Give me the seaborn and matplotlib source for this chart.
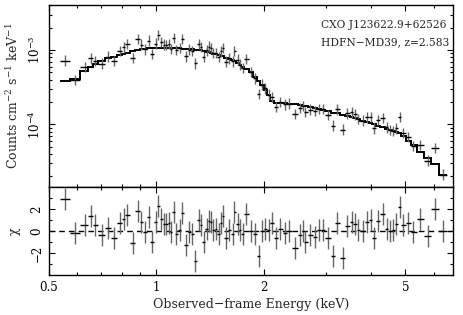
import numpy as np
import matplotlib
matplotlib.use("Agg")
import matplotlib.pyplot as plt
import seaborn as sns
from matplotlib.ticker import FixedLocator, NullFormatter, LogLocator

# bin centres (keV)
energy = [0.554, 0.593, 0.630, 0.655, 0.672, 0.702, 0.732, 0.761, 0.790, 0.810,
          0.828, 0.860, 0.888, 0.908, 0.932, 0.952, 0.972, 0.995, 1.010, 1.033,
          1.050, 1.067, 1.084, 1.101, 1.120, 1.137, 1.162, 1.182, 1.213, 1.239,
          1.261, 1.288, 1.316, 1.336, 1.359, 1.385, 1.403, 1.425, 1.447, 1.472,
          1.497, 1.520, 1.536, 1.570, 1.603, 1.638, 1.656, 1.692, 1.718, 1.747,
          1.786, 1.844, 1.896, 1.936, 1.980, 2.022, 2.065, 2.111, 2.170, 2.227,
          2.300, 2.364, 2.453, 2.533, 2.588, 2.616, 2.702, 2.790, 2.869, 2.932,
          3.027, 3.140, 3.221, 3.336, 3.436, 3.534, 3.610, 3.687, 3.793, 3.892,
          3.994, 4.088, 4.195, 4.315, 4.429, 4.523, 4.621, 4.701, 4.824, 4.927,
          5.089, 5.256, 5.512, 5.787, 6.043, 6.376]

# observed flux (counts cm^-2 s^-1 keV^-1)
flux = [7.2e-4, 3.98e-4, 5.87e-4, 7.74e-4, 7.14e-4, 6.56e-4, 8.17e-4, 7.19e-4, 9.77e-4, 1.089e-3,
        1.208e-3, 7.87e-4, 1.400e-3, 1.183e-3, 1.021e-3, 1.340e-3, 8.80e-4, 1.222e-3, 1.607e-3, 1.291e-3,
        1.189e-3, 1.178e-3, 1.202e-3, 1.037e-3, 1.442e-3, 1.009e-3, 1.067e-3, 1.413e-3, 8.20e-4, 1.014e-3,
        9.79e-4, 6.6e-4, 1.216e-3, 1.094e-3, 8.12e-4, 9.88e-4, 1.114e-3, 1.064e-3, 9.10e-4, 9.16e-4,
        8.13e-4, 9.60e-4, 1.064e-3, 7.00e-4, 7.74e-4, 7.06e-4, 9.80e-4, 7.43e-4, 6.37e-4, 5.75e-4,
        7.52e-4, 5.07e-4, 4.16e-4, 2.57e-4, 3.42e-4, 3.05e-4, 2.52e-4, 2.35e-4, 1.70e-4, 1.99e-4,
        1.85e-4, 1.90e-4, 1.38e-4, 1.67e-4, 1.77e-4, 1.46e-4, 1.58e-4, 1.50e-4, 1.62e-4, 1.60e-4,
        1.33e-4, 9.6e-5, 1.59e-4, 8.5e-5, 1.40e-4, 1.45e-4, 1.36e-4, 1.18e-4, 1.12e-4, 1.24e-4,
        1.25e-4, 8.8e-5, 1.14e-4, 1.22e-4, 9.1e-5, 8.45e-5, 8.2e-5, 8.8e-5, 1.25e-4, 7.6e-5,
        6.8e-5, 5.1e-5, 5.3e-5, 3.25e-5, 4.8e-5, 2.1e-5]

# folded model, one value per bin
model = [3.80e-4, 4.11e-4, 5.28e-4, 5.98e-4, 6.43e-4, 7.05e-4, 7.73e-4, 8.15e-4, 8.57e-4, 8.89e-4,
         9.18e-4, 9.68e-4, 1.007e-3, 1.021e-3, 1.038e-3, 1.052e-3, 1.054e-3, 1.054e-3, 1.054e-3, 1.054e-3,
         1.054e-3, 1.054e-3, 1.054e-3, 1.054e-3, 1.054e-3, 1.054e-3, 1.054e-3, 1.050e-3, 1.038e-3, 1.030e-3,
         1.023e-3, 1.014e-3, 1.005e-3, 9.95e-4, 9.73e-4, 9.51e-4, 9.35e-4, 9.18e-4, 8.99e-4, 8.81e-4,
         8.59e-4, 8.38e-4, 8.22e-4, 7.93e-4, 7.66e-4, 7.38e-4, 7.16e-4, 6.65e-4, 6.30e-4, 6.01e-4,
         5.65e-4, 5.09e-4, 4.35e-4, 3.87e-4, 3.42e-4, 2.93e-4, 2.47e-4, 2.07e-4, 1.93e-4, 1.92e-4,
         1.91e-4, 1.90e-4, 1.85e-4, 1.80e-4, 1.77e-4, 1.75e-4, 1.70e-4, 1.66e-4, 1.61e-4, 1.57e-4,
         1.51e-4, 1.44e-4, 1.40e-4, 1.34e-4, 1.29e-4, 1.25e-4, 1.21e-4, 1.17e-4, 1.12e-4, 1.07e-4,
         1.03e-4, 9.95e-5, 9.55e-5, 9.14e-5, 8.75e-5, 8.45e-5, 8.15e-5, 7.91e-5, 7.59e-5, 6.89e-5,
         6.00e-5, 5.20e-5, 4.30e-5, 3.55e-5, 2.90e-5, 2.09e-5]

# residuals in units of sigma
chi = [2.89, -0.18, 0.57, 1.40, 0.57, -0.39, 0.30, -0.68, 0.71, 1.10,
       1.49, -1.13, 1.79, 0.80, -0.09, 1.31, -0.98, 0.80, 2.29, 1.10,
       0.65, 0.60, 0.71, -0.09, 1.70, -0.24, 0.06, 1.61, -1.28, -0.09,
       -0.24, -2.77, 1.04, 0.51, -0.98, 0.21, 0.95, 0.80, 0.06, 0.21,
       -0.30, 0.74, 1.40, -0.68, 0.06, -0.24, 1.70, 0.60, 0.06, -0.24,
       1.55, -0.03, -0.24, -2.23, 0.00, 0.21, 0.12, 0.71, -0.68, 0.21,
       -0.18, 0.00, -1.58, -0.39, 0.00, -0.98, -0.39, -0.54, 0.06, 0.12,
       -0.68, -2.23, 0.71, -2.47, 0.42, 0.80, 0.65, 0.06, 0.00, 0.80,
       1.04, -0.68, 0.95, 1.55, 0.21, 0.00, 0.06, 0.60, 2.20, 0.51,
       0.71, -0.09, 1.10, -0.48, 1.99, 0.00]

flux_err_dex = 0.07   # half-length of flux error bars in log10
chi_err = 1.0

x_ticks = [0.5, 1, 2, 5]
x_tick_labels = ["0.5", "1", "2", "5"]
x_minor = [0.6, 0.7, 0.8, 0.9, 3, 4, 6]
flux_ticks = [1e-4, 1e-3]
flux_tick_labels = ["$10^{-4}$", "$10^{-3}$"]
chi_ticks = [-2, 0, 2]
chi_tick_labels = ["\u22122", "0", "2"]
chi_minor = [-3, -1, 1, 3]

sns.set_theme(style="ticks")
fs = 8.5
plt.rcParams["font.family"] = ["DejaVu Serif"]
plt.rcParams["mathtext.fontset"] = "dejavuserif"
plt.rcParams["font.size"] = fs
plt.rcParams["axes.labelsize"] = 9
plt.rcParams["xtick.labelsize"] = fs
plt.rcParams["ytick.labelsize"] = fs
plt.rcParams["axes.linewidth"] = 1.0

energy = np.array(energy)
flux = np.array(flux)
model = np.array(model)
chi = np.array(chi)

# bin edges half way (in log) between neighbouring centres
logc = np.log10(energy)
mids = (logc[1:] + logc[:-1]) / 2
edges = 10 ** np.concatenate([[2 * logc[0] - mids[0]], mids, [2 * logc[-1] - mids[-1]]])
xerr = [energy - edges[:-1], edges[1:] - energy]
yerr = [flux * (1 - 10 ** -flux_err_dex), flux * (10 ** flux_err_dex - 1)]

fig = plt.figure(figsize=(4.63, 3.15), dpi=100)
ax1 = fig.add_axes([0.1058, 0.4063, 0.8726, 0.5778])
ax2 = fig.add_axes([0.1058, 0.1270, 0.8726, 0.2794], sharex=ax1)

# spectrum + model
ax1.stairs(model, edges, baseline=None, color="black", lw=1.4)
ax1.errorbar(energy, flux, yerr=yerr, fmt="none", ecolor="0.4", elinewidth=1.0)
ax1.errorbar(energy, flux, xerr=xerr, fmt="none", ecolor="black", elinewidth=1.0)
ax1.set_xscale("log")
ax1.set_yscale("log")
ax1.set_xlim(0.5, 6.8)
ax1.set_ylim(1.43e-5, 4.05e-3)
ax1.set_yticks(flux_ticks, flux_tick_labels, rotation=90, va="center")
ax1.yaxis.set_minor_locator(LogLocator(base=10, subs=np.arange(2, 10)))
ax1.yaxis.set_minor_formatter(NullFormatter())
ax1.set_ylabel("Counts cm$^{-2}$ s$^{-1}$ keV$^{-1}$")
ax1.text(0.673, 0.89, "CXO J123622.9+62526", transform=ax1.transAxes, ha="left", va="center", fontsize=7.7)
ax1.text(0.673, 0.797, "HDFN\u2212MD39, z=2.583", transform=ax1.transAxes, ha="left", va="center", fontsize=7.7)

# residuals
ax2.axhline(0, color="black", lw=1.0, ls=(0, (4, 3)))
ax2.errorbar(energy, chi, yerr=chi_err, fmt="none", ecolor="0.4", elinewidth=1.0)
ax2.errorbar(energy, chi, xerr=xerr, fmt="none", ecolor="black", elinewidth=1.0)
ax2.set_ylim(-4, 4)
ax2.set_yticks(chi_ticks, chi_tick_labels, rotation=90, va="center")
ax2.yaxis.set_minor_locator(FixedLocator(chi_minor))
ax2.set_ylabel("\u03c7")
ax2.set_xticks(x_ticks, x_tick_labels)
ax2.xaxis.set_minor_locator(FixedLocator(x_minor))
ax2.xaxis.set_minor_formatter(NullFormatter())
ax2.set_xlabel("Observed\u2212frame Energy (keV)", labelpad=3)

for ax in (ax1, ax2):
    ax.tick_params(which="both", direction="in", top=True, right=True, width=0.8, colors="black")
    ax.tick_params(which="major", length=4.5, pad=4)
    ax.tick_params(which="minor", length=2.5)
    for s in ax.spines.values():
        s.set_color("black")
ax1.tick_params(axis="x", which="both", labelbottom=False)
ax1.yaxis.set_label_coords(-0.07, 0.5)
ax2.yaxis.set_label_coords(-0.07, 0.5)

fig.savefig("out.png", dpi=100)
